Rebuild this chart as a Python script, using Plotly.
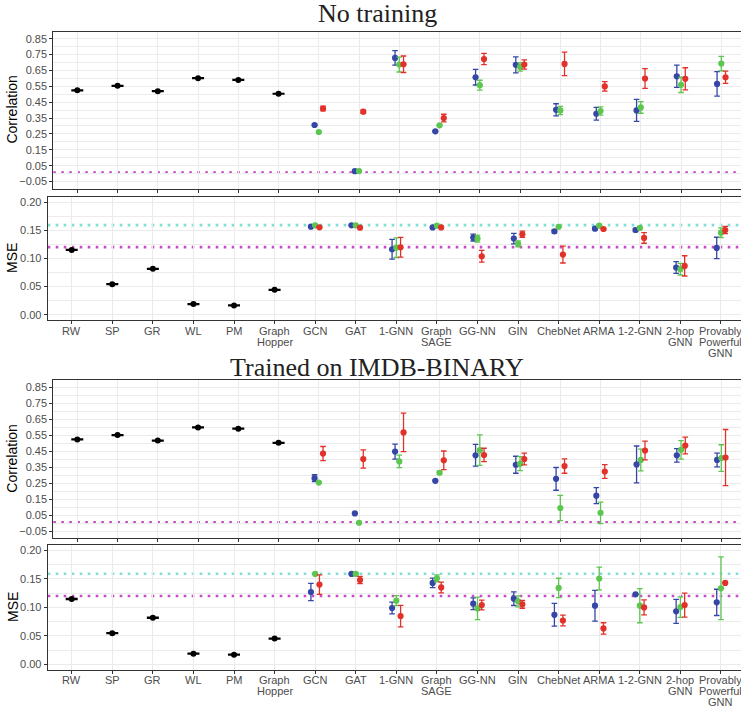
import plotly.graph_objects as go

# ---------------- data ----------------
categories = ["RW", "SP", "GR", "WL", "PM", "Graph<br>Hopper", "GCN", "GAT", "1-GNN",
              "Graph<br>SAGE", "GG-NN", "GIN", "ChebNet", "ARMA", "1-2-GNN",
              "2-hop<br>GNN", "Provably<br>Powerful<br>GNN"]
n_base = 6  # RW .. Graph Hopper are kernel baselines; the rest are GNNs

# --- No training ---
nt_base_corr = [0.525, 0.553, 0.519, 0.601, 0.590, 0.503]
nt_base_corr_sd = [0.002, 0.002, 0.002, 0.002, 0.002, 0.002]
nt_corr_a = [0.306, 0.015, 0.729, 0.266, 0.607, 0.685, 0.402, 0.377, 0.398, 0.613, 0.565]
nt_corr_a_sd = [0.004, 0.003, 0.046, 0.004, 0.049, 0.051, 0.038, 0.040, 0.069, 0.070, 0.077]
nt_corr_b = [0.262, 0.016, 0.687, 0.304, 0.557, 0.672, 0.398, 0.394, 0.417, 0.559, 0.693]
nt_corr_b_sd = [0.004, 0.003, 0.047, 0.004, 0.031, 0.027, 0.026, 0.026, 0.037, 0.048, 0.045]
nt_corr_c = [0.410, 0.390, 0.689, 0.350, 0.722, 0.687, 0.691, 0.549, 0.599, 0.597, 0.607]
nt_corr_c_sd = [0.015, 0.010, 0.052, 0.024, 0.035, 0.029, 0.074, 0.030, 0.062, 0.070, 0.039]

nt_base_mse = [0.115, 0.0543, 0.0814, 0.0189, 0.0165, 0.0442]
nt_base_mse_sd = [0.0006, 0.0006, 0.0006, 0.0006, 0.0006, 0.0006]
nt_mse_a = [0.1563, 0.1587, 0.1162, 0.1550, 0.1369, 0.1351, 0.1480, 0.1528, 0.1504, 0.0838, 0.1186]
nt_mse_a_sd = [0.001, 0.001, 0.0174, 0.001, 0.0060, 0.0094, 0.0030, 0.0015, 0.0030, 0.0103, 0.0189]
nt_mse_b = [0.1587, 0.1587, 0.1190, 0.1580, 0.1350, 0.1257, 0.1560, 0.1580, 0.1540, 0.0808, 0.1457]
nt_mse_b_sd = [0.001, 0.001, 0.0174, 0.001, 0.0062, 0.0053, 0.001, 0.001, 0.001, 0.0103, 0.0086]
nt_mse_c = [0.1552, 0.1546, 0.1198, 0.1550, 0.1038, 0.1428, 0.1068, 0.1522, 0.1363, 0.0867, 0.1504]
nt_mse_c_sd = [0.001, 0.001, 0.0174, 0.001, 0.0103, 0.0056, 0.0150, 0.001, 0.0094, 0.0180, 0.0065]

# --- Trained on IMDB-BINARY ---
tr_base_corr = [0.523, 0.550, 0.516, 0.598, 0.590, 0.502]
tr_base_corr_sd = [0.002, 0.002, 0.002, 0.002, 0.002, 0.002]
tr_corr_a = [0.2815, 0.061, 0.447, 0.265, 0.424, 0.365, 0.277, 0.172, 0.367, 0.424, 0.395]
tr_corr_a_sd = [0.021, 0.003, 0.047, 0.004, 0.068, 0.053, 0.071, 0.050, 0.115, 0.042, 0.043]
tr_corr_b = [0.254, 0.003, 0.386, 0.315, 0.456, 0.372, 0.095, 0.065, 0.395, 0.458, 0.407]
tr_corr_b_sd = [0.004, 0.003, 0.039, 0.010, 0.095, 0.044, 0.079, 0.067, 0.068, 0.058, 0.083]
tr_corr_c = [0.435, 0.401, 0.567, 0.393, 0.426, 0.401, 0.357, 0.323, 0.454, 0.485, 0.410]
tr_corr_c_sd = [0.044, 0.057, 0.120, 0.058, 0.042, 0.037, 0.045, 0.043, 0.058, 0.052, 0.175]

tr_base_mse = [0.1147, 0.0547, 0.0818, 0.0188, 0.0170, 0.0453]
tr_base_mse_sd = [0.0006, 0.0006, 0.0006, 0.0006, 0.0006, 0.0006]
tr_mse_a = [0.1270, 0.1588, 0.0988, 0.1430, 0.1065, 0.1153, 0.0870, 0.1030, 0.1230, 0.0930, 0.1088]
tr_mse_a_sd = [0.015, 0.001, 0.0103, 0.0082, 0.0103, 0.0120, 0.0200, 0.0270, 0.001, 0.0210, 0.0230]
tr_mse_b = [0.1588, 0.1588, 0.1118, 0.1510, 0.0982, 0.1106, 0.1341, 0.1506, 0.1030, 0.1006, 0.1335]
tr_mse_b_sd = [0.001, 0.001, 0.0088, 0.0060, 0.0197, 0.0097, 0.0170, 0.0200, 0.0300, 0.0180, 0.0550]
tr_mse_c = [0.1400, 0.1480, 0.0847, 0.1350, 0.1041, 0.1053, 0.0770, 0.0630, 0.1000, 0.1040, 0.1430]
tr_mse_c_sd = [0.0170, 0.0062, 0.0188, 0.0094, 0.0085, 0.0068, 0.0094, 0.0100, 0.0132, 0.0210, 0.001]

# reference lines
corr_ref = 0.006
mse_ref_low = 0.120
mse_ref_high = 0.159

# ---------------- style ----------------
W, H = 741, 708
col_a, col_b, col_c = "#3546A6", "#5CC64E", "#E2302A"
dodge = 0.105
FONT = "Liberation Sans, Arial, sans-serif"
tick_font = dict(family=FONT, size=11, color="#4D4D4D")
grid_col = "#EBEBEB"
line_gap = 11.3  # px between lines of multi-line category labels

def px_y(p):
    return 1 - p / H

fig = go.Figure()

panels = [
    ("", 31.7, 188.5, 53.3, "corr", None,
     (nt_base_corr, nt_base_corr_sd, [(nt_corr_a, nt_corr_a_sd, col_a), (nt_corr_b, nt_corr_b_sd, col_b), (nt_corr_c, nt_corr_c_sd, col_c)])),
    ("2", 196.7, 320.3, 47.7, "mse", 330.7,
     (nt_base_mse, nt_base_mse_sd, [(nt_mse_a, nt_mse_a_sd, col_a), (nt_mse_b, nt_mse_b_sd, col_b), (nt_mse_c, nt_mse_c_sd, col_c)])),
    ("3", 380.0, 538.3, 53.3, "corr", None,
     (tr_base_corr, tr_base_corr_sd, [(tr_corr_a, tr_corr_a_sd, col_a), (tr_corr_b, tr_corr_b_sd, col_b), (tr_corr_c, tr_corr_c_sd, col_c)])),
    ("4", 545.0, 670.0, 47.7, "mse", 679.5,
     (tr_base_mse, tr_base_mse_sd, [(tr_mse_a, tr_mse_a_sd, col_a), (tr_mse_b, tr_mse_b_sd, col_b), (tr_mse_c, tr_mse_c_sd, col_c)])),
]

idx_all = list(range(len(categories)))
idx_base = idx_all[:n_base]
idx_gnn = idx_all[n_base:]
offsets = [-dodge, 0.0, dodge]

for suf, top, bot, left, kind, label_y, (bvals, bsd, series) in panels:
    xa, ya = "x" + suf, "y" + suf
    fig.add_trace(go.Scatter(
        x=idx_base, y=bvals, mode="markers", xaxis=xa, yaxis=ya,
        marker=dict(color="black", size=6),
        error_y=dict(type="data", array=bsd, color="black", thickness=1.6, width=6),
        showlegend=False, hoverinfo="skip"))
    for (vals, sd, col), off in zip(series, offsets):
        fig.add_trace(go.Scatter(
            x=[i + off for i in idx_gnn], y=vals, mode="markers", xaxis=xa, yaxis=ya,
            marker=dict(color=col, size=6.2),
            error_y=dict(type="data", array=sd, color=col, thickness=1.3, width=2.8),
            showlegend=False, hoverinfo="skip"))

    xkey = "xaxis" + suf
    ykey = "yaxis" + suf
    left_frac = left / W
    spacing = 40.25 if kind == "corr" else 40.58
    x0 = -24.0 / spacing
    x1 = x0 + (W - left) / spacing
    fig.layout[xkey] = dict(
        domain=[left_frac, 1], range=[x0, x1], anchor=ya,
        tickmode="array", tickvals=idx_all, showticklabels=False,
        ticks="outside", ticklen=3, tickcolor="#333333", tickwidth=1,
        showgrid=True, gridcolor=grid_col, gridwidth=1,
        showline=True, linecolor="#333333", linewidth=1, mirror=True,
        zeroline=False, fixedrange=True)
    if kind == "corr":
        yrange = [-0.094, 0.894]
        ydict = dict(tick0=0.05, dtick=0.1, tickformat=".2f",
                     minor=dict(dtick=0.05, tick0=0.0, showgrid=True, gridcolor=grid_col, gridwidth=0.6))
    else:
        yrange = [-0.0099, 0.2095]
        ydict = dict(tick0=0.0, dtick=0.05, tickformat=".2f",
                     minor=dict(dtick=0.025, tick0=0.0, showgrid=True, gridcolor=grid_col, gridwidth=0.6))
    fig.layout[ykey] = dict(
        domain=[px_y(bot), px_y(top)], range=yrange, anchor=xa,
        tickmode="linear", tickfont=tick_font,
        ticks="outside", ticklen=3, tickcolor="#333333", tickwidth=1,
        showgrid=True, gridcolor=grid_col, gridwidth=1,
        showline=True, linecolor="#333333", linewidth=1, mirror=False,
        zeroline=False, fixedrange=True, **ydict)

    # category labels (tight line spacing like the reference), placed on the category axis
    if label_y is not None:
        for i, lab in enumerate(categories):
            for k, part in enumerate(lab.split("<br>")):
                fig.add_annotation(text=part, xref=xa, yref="paper", x=i,
                                   y=px_y(label_y + k * line_gap),
                                   showarrow=False, xanchor="center", yanchor="middle",
                                   font=tick_font)

    refs = [(corr_ref, "#C64BC6")] if kind == "corr" else [(mse_ref_high, "#7FDCD6"), (mse_ref_low, "#C64BC6")]
    for val, col in refs:
        fig.add_shape(type="line", xref=xa + " domain", yref=ya, x0=0, x1=1, y0=val, y1=val,
                      line=dict(color=col, width=2.6, dash="2.6px,5.4px"), layer="below")

    fig.add_annotation(text="Correlation" if kind == "corr" else "MSE",
                       xref="paper", yref="paper", x=12.5 / W, y=px_y((top + bot) / 2),
                       textangle=-90, showarrow=False, xanchor="center", yanchor="middle",
                       font=dict(family=FONT, size=14, color="black"))

for txt, yc in [("No training", 13.5), ("Trained on IMDB-BINARY", 367.5)]:
    fig.add_annotation(text=txt, xref="paper", yref="paper", x=377 / W, y=px_y(yc),
                       showarrow=False, xanchor="center", yanchor="middle",
                       font=dict(family="Liberation Serif, Times New Roman, serif", size=26, color="#222222"))

fig.update_layout(width=W, height=H, margin=dict(l=0, r=0, t=0, b=0),
                  plot_bgcolor="white", paper_bgcolor="white", showlegend=False)

fig.write_html("out.html", config={"displayModeBar": False},
               post_script="document.body.style.margin='0';document.body.style.overflow='hidden';")
